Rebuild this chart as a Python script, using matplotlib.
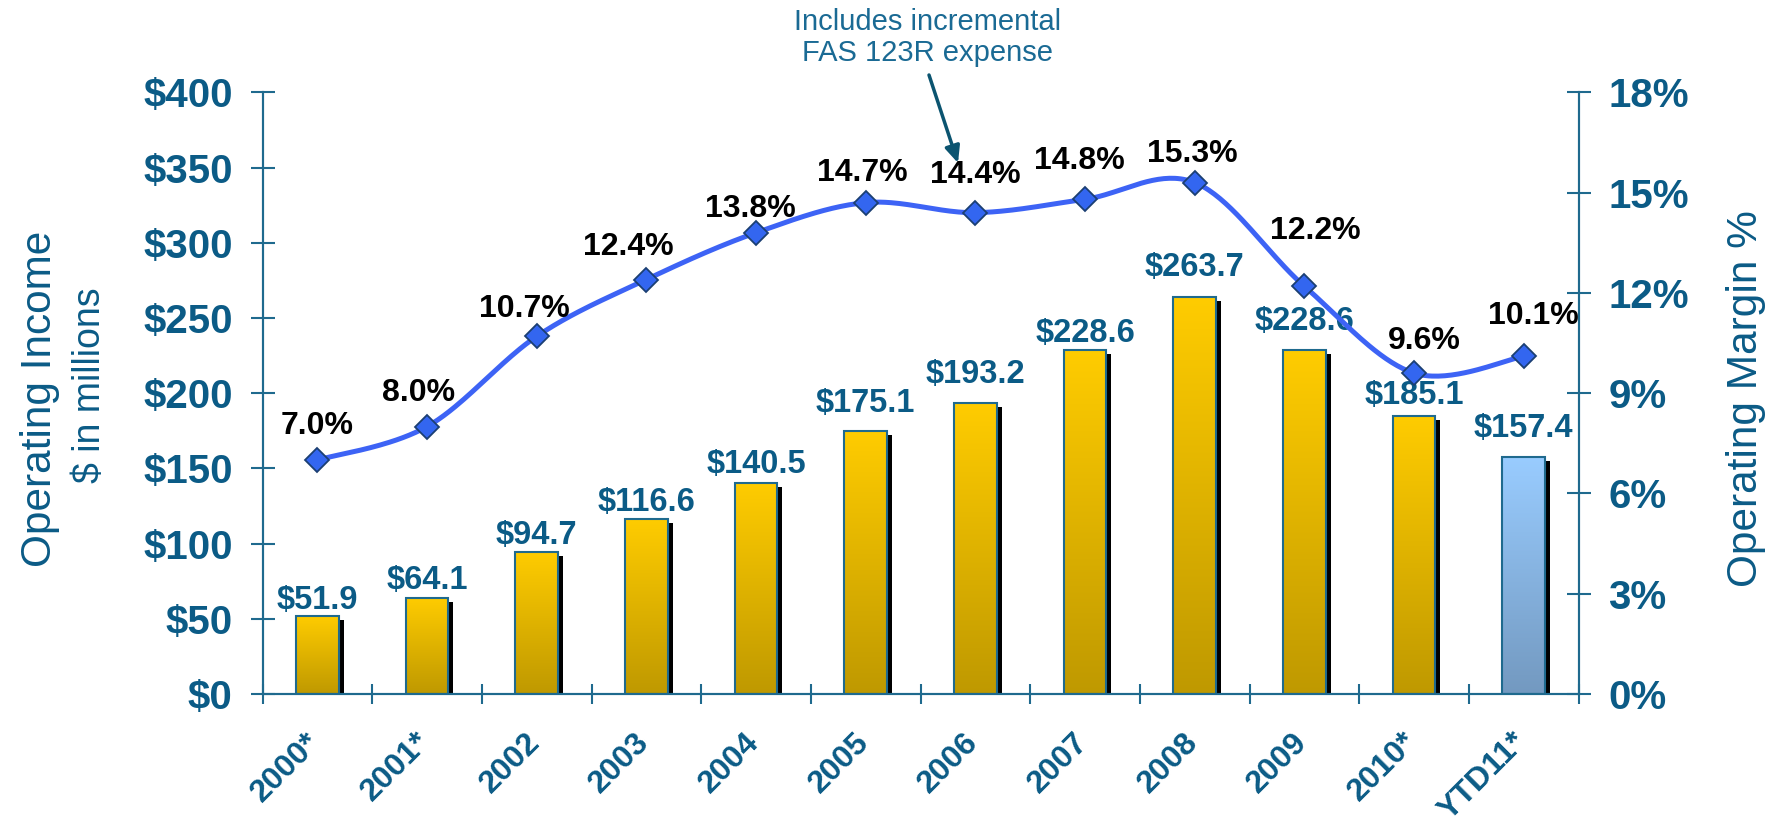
import numpy as np
import matplotlib
matplotlib.use('Agg')
import matplotlib.pyplot as plt
import matplotlib.transforms as mtransforms
from matplotlib.colors import LinearSegmentedColormap

# ---- data ----
years = ['2000*', '2001*', '2002', '2003', '2004', '2005', '2006',
         '2007', '2008', '2009', '2010*', 'YTD11*']
income = [51.9, 64.1, 94.7, 116.6, 140.5, 175.1, 193.2, 228.6, 263.7, 228.6, 185.1, 157.4]
margin = [7.0, 8.0, 10.7, 12.4, 13.8, 14.7, 14.4, 14.8, 15.3, 12.2, 9.6, 10.1]
income_ticks = [0, 50, 100, 150, 200, 250, 300, 350, 400]
margin_ticks = [0, 3, 6, 9, 12, 15, 18]

# ---- layout tweaks (pixels) ----
bar_label_gap = [7, 9, 8, 8, 10, 19, 20, 8, 21, 20, 12, 20]
pct_label_dx = [0, -8, -12, -18, -6, -3, 0, -6, -2, 11, 10, 10]
pct_label_dy = [26, 26, 19, 25, 16, 22, 30, 30, 21, 47, 24, 32]

NAVY = '#0B5B86'
EDGE = '#1F6A8E'
LINE = '#3D63F5'

plt.rcParams['font.family'] = ['Liberation Sans', 'DejaVu Sans']

DPI = 100
fig = plt.figure(figsize=(17.74, 8.22), dpi=DPI)
ax = fig.add_axes([0.148, 0.1557, 0.7418, 0.7320])
ax2 = ax.twinx()

x = np.arange(len(years))
W = 0.39

gold = LinearSegmentedColormap.from_list('gold', ['#BF9900', '#FFCC00'])
sky = LinearSegmentedColormap.from_list('sky', ['#7399C0', '#99CCFF'])
grad = np.linspace(0, 1, 256).reshape(-1, 1)

# shadow bars (shifted right/down a few pixels)
shadow_tr = mtransforms.offset_copy(ax.transData, fig=fig, x=5, y=-4, units='dots')
shadows = ax.bar(x, income, width=W, color='black', zorder=1)
for p in shadows:
    p.set_transform(shadow_tr)

# gradient faces
for i, v in enumerate(income):
    cm = sky if years[i].startswith('YTD') else gold
    ax.imshow(grad, extent=[i - W / 2, i + W / 2, 0, v], origin='lower',
              aspect='auto', cmap=cm, zorder=2, interpolation='bilinear')

bars = ax.bar(x, income, width=W, facecolor='none', edgecolor=EDGE, linewidth=1.5, zorder=3)

for i, (b, v) in enumerate(zip(bars, income)):
    ax.annotate(f'${v:.1f}', xy=(i, v), xytext=(0, bar_label_gap[i] * 72 / DPI),
                textcoords='offset points', ha='center', va='baseline',
                fontsize=23.5, fontweight='bold', color=NAVY, zorder=4)

ax.set_xlim(-0.5, len(years) - 0.5)
ax.set_ylim(0, 400)
ax.set_yticks(income_ticks)
ax.set_yticklabels([f'${t}' for t in income_ticks])

# ticks between categories
ax.set_xticks(np.arange(-0.5, len(years), 1.0))
ax.set_xticklabels([])
for i, lab in enumerate(years):
    ax.annotate(lab, xy=(i, 0), xycoords=('data', 'axes fraction'),
                xytext=(-12 * 72 / DPI, -33 * 72 / DPI), textcoords='offset points',
                rotation=45, rotation_mode='anchor', ha='right', va='top',
                fontsize=23, fontweight='bold', color=NAVY, annotation_clip=False)

for a in (ax, ax2):
    a.spines['top'].set_visible(False)
    for s in ('left', 'right', 'bottom'):
        a.spines[s].set_color(EDGE)
        a.spines[s].set_linewidth(1.5)

ax.tick_params(axis='y', direction='inout', length=17, width=1.5, color=EDGE,
               pad=13, labelsize=29, labelcolor=NAVY)
ax.tick_params(axis='x', direction='inout', length=15, width=1.5, color=EDGE)
for t in ax.get_yticklabels():
    t.set_fontweight('bold')

# ---- margin line ----
def catmull_rom(xs, ys, n=40):
    pts = np.column_stack([xs, ys]).astype(float)
    ext = np.vstack([pts[0], pts, pts[-1]])
    t = np.linspace(0, 1, n)[:, None]
    out = []
    for i in range(len(pts) - 1):
        p0, p1, p2, p3 = ext[i], ext[i + 1], ext[i + 2], ext[i + 3]
        seg = 0.5 * (2 * p1 + (p2 - p0) * t + (2 * p0 - 5 * p1 + 4 * p2 - p3) * t ** 2
                     + (-p0 + 3 * p1 - 3 * p2 + p3) * t ** 3)
        out.append(seg if i == 0 else seg[1:])
    return np.vstack(out)

curve = catmull_rom(x, margin)
ax2.plot(curve[:, 0], curve[:, 1], color=LINE, linewidth=3.6, zorder=5, solid_capstyle='round')
ax2.plot(x, margin, linestyle='none', marker='D', markersize=12,
         markerfacecolor='#3366F0', markeredgecolor='#1B3F73', markeredgewidth=1.3, zorder=6)

for i, v in enumerate(margin):
    ax2.annotate(f'{v:.1f}%', xy=(i, v),
                 xytext=(pct_label_dx[i] * 72 / DPI, pct_label_dy[i] * 72 / DPI),
                 textcoords='offset points', ha='center', va='baseline',
                 fontsize=23, fontweight='bold', color='black', zorder=7)

ax2.set_ylim(0, 18)
ax2.set_yticks(margin_ticks)
ax2.set_yticklabels([f'{t}%' for t in margin_ticks])
ax2.tick_params(axis='y', direction='inout', length=17, width=1.5, color=EDGE,
                pad=13, labelsize=29, labelcolor=NAVY)
for t in ax2.get_yticklabels():
    t.set_fontweight('bold')
ax.set_xlim(-0.5, len(years) - 0.5)

# ---- axis titles ----
fig.text(40 / 1774, 1 - 399 / 822, 'Operating Income', rotation=90, ha='center', va='center',
         fontsize=30.5, color=NAVY)
fig.text(90 / 1774, 1 - 385 / 822, '$ in millions', rotation=90, ha='center', va='center',
         fontsize=27, color=NAVY)
fig.text(1746 / 1774, 1 - 399 / 822, 'Operating Margin %', rotation=90, ha='center', va='center',
         fontsize=30.5, color=NAVY)

# ---- callout ----
fig.text(928 / 1774, 1 - 8 / 822, 'Includes incremental\nFAS 123R expense', ha='center', va='top',
         fontsize=21, color='#1A6A94', linespacing=1.15)
ax.annotate('', xy=(958 / 1774, 1 - 163 / 822), xycoords='figure fraction',
            xytext=(929 / 1774, 1 - 75 / 822), textcoords='figure fraction',
            arrowprops=dict(arrowstyle='-|>,head_length=1.0,head_width=0.45',
                            color='#0B5470', lw=2.5, shrinkA=0, shrinkB=0))

fig.savefig('out.png', dpi=DPI)
